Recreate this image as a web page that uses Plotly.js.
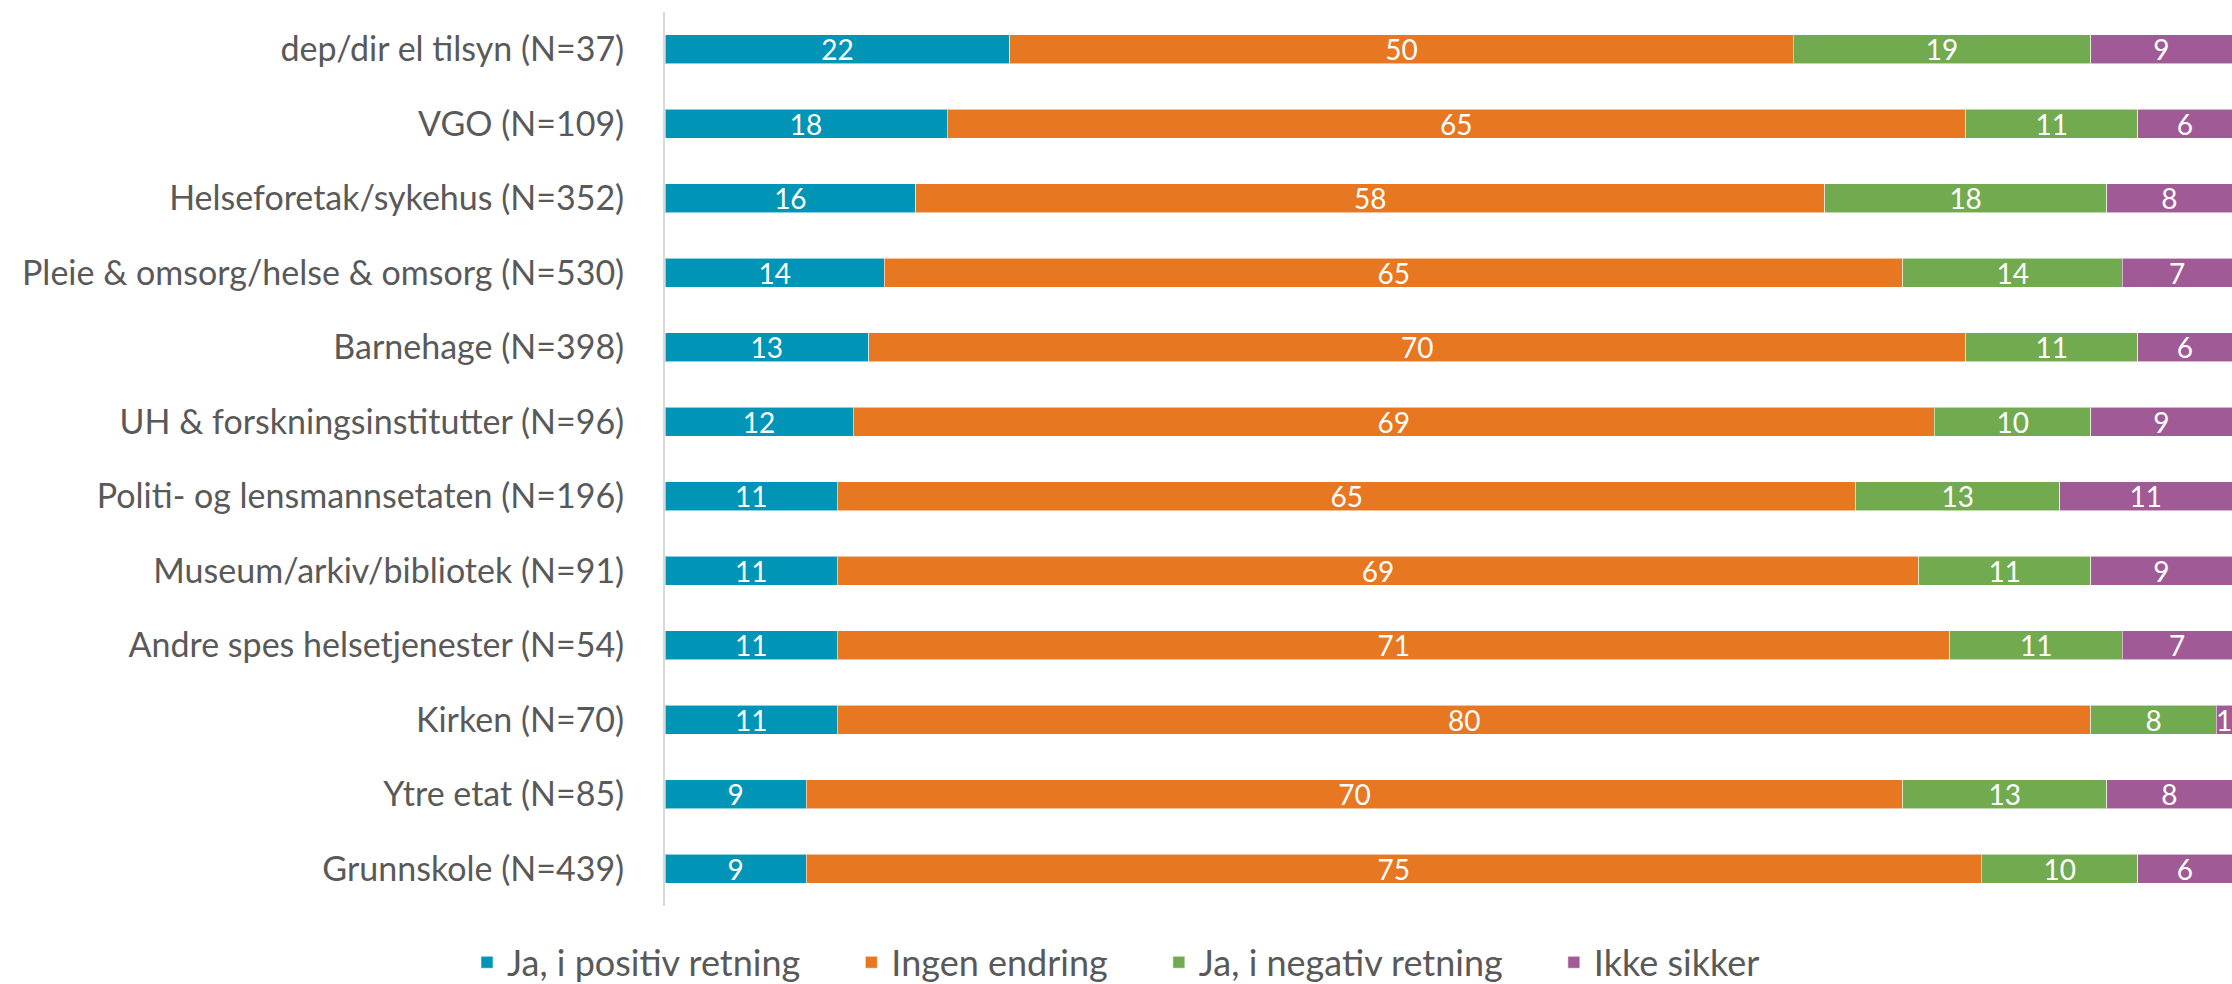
<!DOCTYPE html>
<html>
<head>
<meta charset="utf-8">
<script src="https://cdn.plot.ly/plotly-3.0.1.min.js"></script>
<style>
  html, body { margin: 0; padding: 0; background: #ffffff; }
  #chart { width: 2232px; height: 984px; }
</style>
</head>
<body>
<div id="chart"></div>
<script>
// Categories (top to bottom)
const categories = [
  "dep/dir el tilsyn (N=37)",
  "VGO (N=109)",
  "Helseforetak/sykehus (N=352)",
  "Pleie & omsorg/helse & omsorg (N=530)",
  "Barnehage (N=398)",
  "UH & forskningsinstitutter (N=96)",
  "Politi- og lensmannsetaten (N=196)",
  "Museum/arkiv/bibliotek (N=91)",
  "Andre spes helsetjenester (N=54)",
  "Kirken (N=70)",
  "Ytre etat (N=85)",
  "Grunnskole (N=439)"
];

const seriesNames = ["Ja, i positiv retning", "Ingen endring", "Ja, i negativ retning", "Ikke sikker"];

const positive = [22, 18, 16, 14, 13, 12, 11, 11, 11, 11, 9, 9];
const noChange = [50, 65, 58, 65, 70, 69, 65, 69, 71, 80, 70, 75];
const negative = [19, 11, 18, 14, 11, 10, 13, 11, 11, 8, 13, 10];
const unsure   = [9, 6, 8, 7, 6, 9, 11, 9, 7, 1, 8, 6];

const colors = ["#0095b6", "#e87722", "#72ab4f", "#a05a95"];

const seriesValues = [positive, noChange, negative, unsure];

const FONT = "Lato, 'Open Sans', 'Noto Sans', sans-serif";

const traces = seriesValues.map((vals, i) => ({
  type: "bar",
  orientation: "h",
  name: seriesNames[i] + (i < seriesNames.length - 1 ? "\u00a0\u00a0\u00a0\u00a0\u00a0" : ""),
  y: categories,
  x: vals,
  text: vals.map(String),
  textposition: "inside",
  insidetextanchor: "middle",
  textangle: 0,
  constraintext: "none",
  textfont: { color: "#ffffff", size: 28, family: FONT },
  marker: { color: colors[i], line: { color: "rgba(255,255,255,0.55)", width: 1 } },
  hoverinfo: "x+y+name"
}));

const layout = {
  width: 2232,
  height: 984,
  barmode: "stack",
  bargap: 0.61,
  paper_bgcolor: "#ffffff",
  plot_bgcolor: "#ffffff",
  font: { family: FONT, color: "#595959", size: 34 },
  margin: { l: 665, r: 0, t: 12, b: 78, pad: 0 },
  showlegend: true,
  legend: {
    orientation: "h",
    xref: "container",
    yref: "container",
    x: 0.5,
    xanchor: "center",
    y: 0.022,
    yanchor: "middle",
    font: { size: 36, color: "#595959", family: FONT },
    traceorder: "normal"
  },
  xaxis: {
    range: [0, 100],
    showgrid: false,
    zeroline: false,
    showline: false,
    showticklabels: false,
    ticks: ""
  },
  yaxis: {
    type: "category",
    autorange: "reversed",
    showgrid: false,
    zeroline: false,
    showline: true,
    linecolor: "#d9d9d9",
    linewidth: 2,
    ticks: "",
    ticklabelstandoff: 32,
    tickfont: { size: 34, color: "#595959", family: FONT }
  }
};

Plotly.newPlot("chart", traces, layout, { displayModeBar: false, staticPlot: true });
</script>
</body>
</html>
